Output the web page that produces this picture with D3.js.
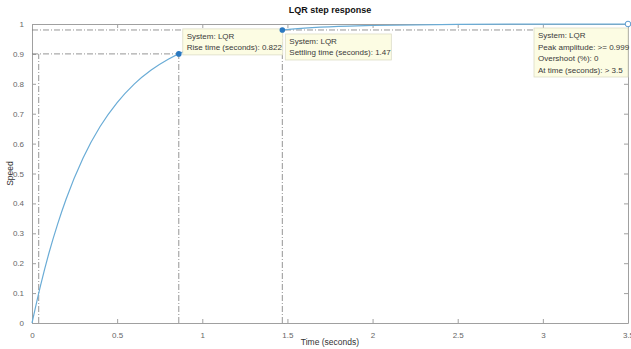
<!DOCTYPE html>
<html>
<head>
<meta charset="utf-8">
<script src="https://cdn.jsdelivr.net/npm/d3@7"></script>
<style>
  body { margin: 0; background: #fff; }
  text { font-family: "Liberation Sans", Arial, sans-serif; }
</style>
</head>
<body>
<svg id="chart" width="631" height="349"></svg>
<script>
// values
const times  = [0, 0.05, 0.1, 0.15, 0.2, 0.3, 0.4, 0.5, 0.6, 0.7, 0.8, 0.9, 1.0, 1.2, 1.4, 1.6, 1.8, 2.0, 2.5, 3.0, 3.5];
const speeds = [0, 0.125, 0.235, 0.33, 0.414, 0.552, 0.657, 0.737, 0.799, 0.846, 0.882, 0.91, 0.931, 0.96, 0.976, 0.986, 0.992, 0.995, 0.999, 0.9997, 0.9999];
const xTicks = [0, 0.5, 1, 1.5, 2, 2.5, 3, 3.5];
const yTicks = [0, 0.1, 0.2, 0.3, 0.4, 0.5, 0.6, 0.7, 0.8, 0.9, 1];

// characteristic points from the data tips
const riseStart = 0.0394, riseEnd = 0.862, riseLevel = 0.9;
const settleTime = 1.47, settleLevel = 0.98;
const peakTime = 3.5, peakValue = 1.0;
const tipRise   = ["System: LQR", "Rise time (seconds): 0.822"];
const tipSettle = ["System: LQR", "Settling time (seconds): 1.47"];
const tipPeak   = ["System: LQR", "Peak amplitude: >= 0.999", "Overshoot (%): 0", "At time (seconds): > 3.5"];

const svg = d3.select("#chart");
const margin = { top: 24, right: 3, bottom: 26, left: 32 };
const width = +svg.attr("width") - margin.left - margin.right;
const height = +svg.attr("height") - margin.top - margin.bottom;

const x = d3.scaleLinear().domain([0, 3.5]).range([0, width]);
const y = d3.scaleLinear().domain([0, 1]).range([height, 0]);

const g = svg.append("g").attr("transform", `translate(${margin.left},${margin.top})`);

const axisColor = "#a0a0a0", labelColor = "#666";

// axes (box with ticks on all sides)
const styleAxis = sel => {
  sel.select(".domain").attr("stroke", axisColor);
  sel.selectAll(".tick line").attr("stroke", axisColor);
  sel.selectAll(".tick text").attr("fill", labelColor).style("font-size", "8px");
};
g.append("g").attr("transform", `translate(0,${height})`)
  .call(d3.axisBottom(x).tickValues(xTicks).tickSize(-4).tickSizeOuter(0).tickPadding(9).tickFormat(d3.format("")))
  .call(styleAxis);
g.append("g")
  .call(d3.axisLeft(y).tickValues(yTicks).tickSize(-4).tickSizeOuter(0).tickPadding(8).tickFormat(d3.format("")))
  .call(styleAxis);
g.append("g")
  .call(d3.axisTop(x).tickValues(xTicks).tickSize(-4).tickSizeOuter(0).tickFormat(""))
  .call(styleAxis);
g.append("g").attr("transform", `translate(${width},0)`)
  .call(d3.axisRight(y).tickValues(yTicks).tickSize(-4).tickSizeOuter(0).tickFormat(""))
  .call(styleAxis);

// dash-dot reference lines
const refColor = "#7a7a7a", dash = "6,2,1,2";
const refs = [
  [0, riseLevel, riseEnd, riseLevel],
  [0, settleLevel, 3.5, settleLevel],
  [riseStart, 0, riseStart, riseLevel],
  [riseEnd, 0, riseEnd, riseLevel],
  [settleTime, 0, settleTime, settleLevel]
];
g.selectAll(".ref").data(refs).enter().append("line")
  .attr("x1", d => x(d[0])).attr("y1", d => y(d[1]))
  .attr("x2", d => x(d[2])).attr("y2", d => y(d[3]))
  .attr("stroke", refColor).attr("stroke-width", 0.8).attr("stroke-dasharray", dash);

// response curve
const pts = times.map((t, i) => [t, speeds[i]]);
const lineColor = "#6aacd6";
g.append("path").datum(pts)
  .attr("fill", "none").attr("stroke", lineColor).attr("stroke-width", 1.2)
  .attr("d", d3.line().x(d => x(d[0])).y(d => y(d[1])).curve(d3.curveMonotoneX));

// data tips
function dataTip(lines, px, py, w) {
  const h = lines.length * 11.5 + 3;
  const tg = g.append("g").attr("transform", `translate(${px},${py})`);
  tg.append("rect").attr("width", w).attr("height", h)
    .attr("fill", "#fcfce3").attr("stroke", "#dcdcc6").attr("stroke-width", 0.8);
  tg.selectAll("text").data(lines).enter().append("text")
    .attr("x", 4).attr("y", (d, i) => 10 + i * 11.5)
    .attr("fill", "#3a3a3a").style("font-size", "8px").text(d => d);
}
dataTip(tipRise, x(riseEnd) + 4, y(riseLevel) - 25, 100);
dataTip(tipSettle, x(settleTime) + 3, y(settleLevel) + 4, 106);
dataTip(tipPeak, x(peakTime) - 94, y(peakValue) + 4, 94);

// markers (on top of the tips)
g.append("circle").attr("cx", x(riseEnd)).attr("cy", y(riseLevel)).attr("r", 2.8).attr("fill", "#2a78c0");
g.append("circle").attr("cx", x(settleTime)).attr("cy", y(settleLevel)).attr("r", 2.8).attr("fill", "#2a78c0");
g.append("circle").attr("cx", x(peakTime)).attr("cy", y(peakValue)).attr("r", 2.8)
  .attr("fill", "#fff").attr("stroke", "#5a9bd0").attr("stroke-width", 1);

// title and axis labels
svg.append("text").attr("x", margin.left + width / 2).attr("y", 13)
  .attr("text-anchor", "middle").style("font-size", "9px").style("font-weight", "bold")
  .attr("fill", "#111").text("LQR step response");
svg.append("text").attr("x", margin.left + width / 2).attr("y", 345)
  .attr("text-anchor", "middle").style("font-size", "8.5px").attr("fill", "#333").text("Time (seconds)");
svg.append("text").attr("transform", `translate(13,${margin.top + height / 2}) rotate(-90)`)
  .attr("text-anchor", "middle").style("font-size", "8.5px").attr("fill", "#333").text("Speed");
</script>
</body>
</html>
